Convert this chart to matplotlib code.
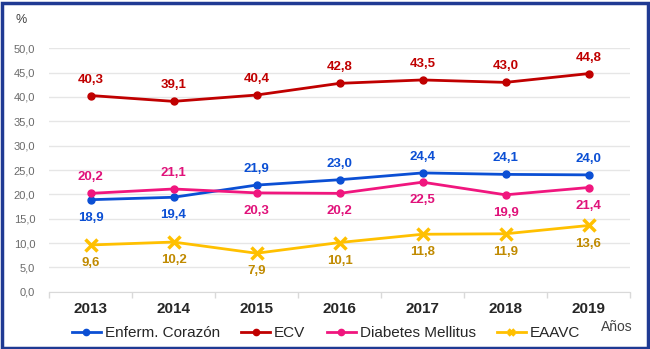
import matplotlib
matplotlib.use("Agg")
import matplotlib.pyplot as plt
from matplotlib.patches import Rectangle

plt.rcParams['font.family'] = ['Liberation Sans', 'DejaVu Sans']

years = ["2013", "2014", "2015", "2016", "2017", "2018", "2019"]
corazon = [18.9, 19.4, 21.9, 23.0, 24.4, 24.1, 24.0]
ecv = [40.3, 39.1, 40.4, 42.8, 43.5, 43.0, 44.8]
diabetes = [20.2, 21.1, 20.3, 20.2, 22.5, 19.9, 21.4]
eaavc = [9.6, 10.2, 7.9, 10.1, 11.8, 11.9, 13.6]
yticks = [0, 5, 10, 15, 20, 25, 30, 35, 40, 45, 50]

# label placement: +1 above, -1 below
pos_corazon = [-1, -1, 1, 1, 1, 1, 1]
pos_ecv = [1] * 7
pos_diabetes = [1, 1, -1, -1, -1, -1, -1]
pos_eaavc = [-1] * 7

W, H = 650, 349
fig = plt.figure(figsize=(W / 100, H / 100), dpi=100)
ax = fig.add_axes([49 / W, (H - 291.7) / H, (630 - 49) / W, (291.7 - 48.3) / H])

x = list(range(len(years)))
series = [
    ("Enferm. Corazón", corazon, pos_corazon, "#0B4FD4", "#0B4FD4", "o"),
    ("ECV", ecv, pos_ecv, "#C00000", "#C00000", "o"),
    ("Diabetes Mellitus", diabetes, pos_diabetes, "#F0167E", "#E0127A", "o"),
    ("EAAVC", eaavc, pos_eaavc, "#FFC000", "#C08A00", "x"),
]
handles = []
for name, vals, pos, col, lcol, mk in series:
    if mk == "o":
        h, = ax.plot(x, vals, color=col, lw=2.0, marker="o", ms=5, clip_on=False, zorder=3)
    else:
        h, = ax.plot(x, vals, color=col, lw=2.0, marker="x", ms=8, mew=2.5, clip_on=False, zorder=3)
    handles.append(h)
    for xi, v, p in zip(x, vals, pos):
        off = 11.5 if p > 0 else -13
        ax.annotate(f"{v:.1f}".replace(".", ","), (xi, v), xytext=(0, off),
                    textcoords="offset points", ha="center", va="center",
                    fontsize=9.5, fontweight="bold", color=lcol)

ax.set_xlim(-0.5, 6.5)
ax.set_ylim(0, 50)
ax.set_yticks(yticks)
ax.set_yticklabels([f"{v:.1f}".replace(".", ",") for v in yticks], fontsize=8, color="#6A6A6A")
ax.set_xticks(x)
ax.set_xticklabels(years, fontsize=11, fontweight="bold", color="#262626")
ax.set_xticks([i - 0.5 for i in range(len(years) + 1)], minor=True)
ax.tick_params(axis="x", which="major", length=0, pad=7.5)
ax.tick_params(axis="x", which="minor", length=4, color="#D9D9D9", width=1)
ax.tick_params(axis="y", length=0, pad=10)
ax.grid(axis="y", color="#E6E6E6", lw=1)
ax.set_axisbelow(True)
for s in ["top", "right", "left"]:
    ax.spines[s].set_visible(False)
ax.spines["bottom"].set_color("#D9D9D9")

fig.text(15 / W, 1 - 20 / H, "%", fontsize=9, color="#404040", ha="left", va="center")
fig.text(617 / W, 1 - 327 / H, "Años", fontsize=10, color="#404040", ha="center", va="center")

leg = fig.legend(handles=handles, labels=[s[0] for s in series], loc="center",
                 bbox_to_anchor=(326 / W, 1 - 333 / H), ncol=4, frameon=False,
                 fontsize=11, handlelength=1.9, handletextpad=0.25, columnspacing=1.4,
                 borderaxespad=0)
for t in leg.get_texts():
    t.set_color("#262626")
for lh in leg.legend_handles:
    lh.set_markersize(4.5)

fig.patches.append(Rectangle((1.5 / W, 1.5 / H), (W - 3.5) / W, (H - 4) / H,
                             transform=fig.transFigure, fill=False,
                             edgecolor="#1F3A93", lw=2.5))

fig.savefig("out.png", dpi=100)
